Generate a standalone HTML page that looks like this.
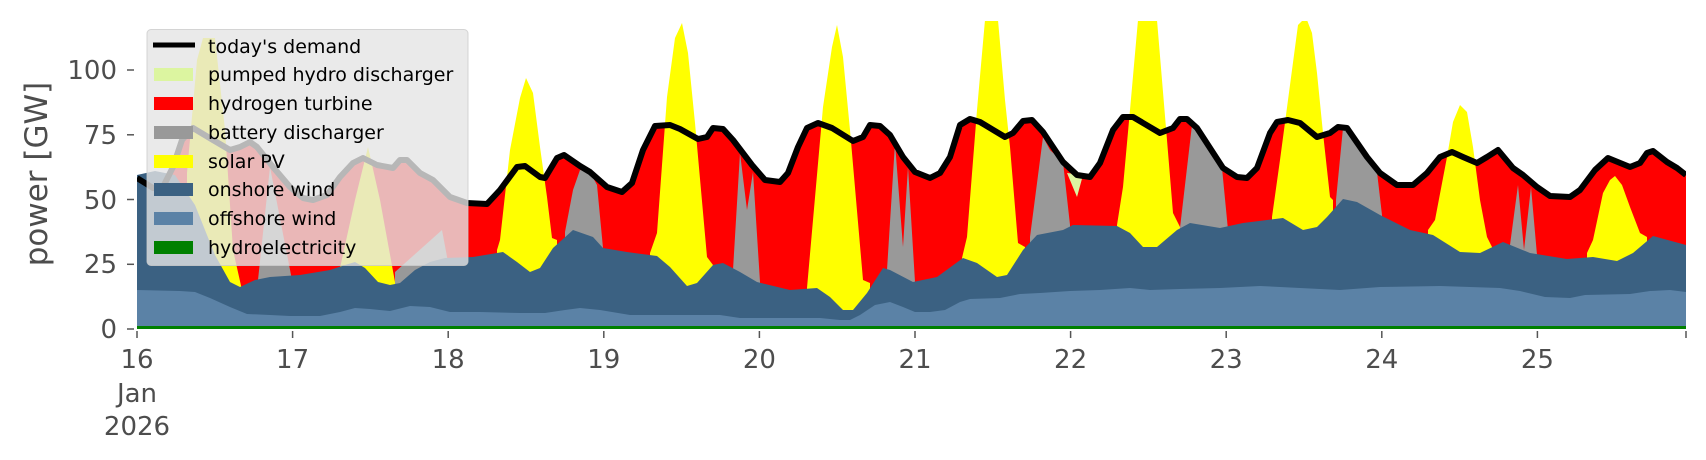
<!DOCTYPE html>
<html><head><meta charset="utf-8"><style>
html,body{margin:0;padding:0;background:#fff;}
svg{display:block;font-family:"DejaVu Sans","Liberation Sans",sans-serif;}
</style></head><body>
<svg width="1706" height="460" viewBox="0 0 1706 460" xmlns="http://www.w3.org/2000/svg">
<defs><clipPath id="c"><rect x="137" y="21" width="1549" height="310"/></clipPath></defs>
<g clip-path="url(#c)">
<polygon fill="#ff0000" points="137,178 153,188 163,187 173,167 182,140 193,128 213,140 230,150 240,147 250,142 257,147 273,167 290,187 303,198 313,200 327,195 340,177 353,163 363,158 377,165 393,168 400,160 407,160 420,173 433,180 450,197 467,203 487,204 500,190 517,167 525,166 540,177 545,178 557,158 564,155 580,166 590,172 607,187 622,192 632,183 643,150 655,126 670,125 680,129 698,139 707,137 713,128 723,129 733,140 752,165 765,180 780,182 788,173 798,147 807,128 818,123 832,128 853,141 863,137 870,125 880,126 890,135 903,157 915,172 930,178 940,173 950,157 960,125 970,119 980,122 1005,137 1013,133 1023,121 1032,120 1043,132 1063,162 1077,175 1090,177 1100,163 1113,130 1123,117 1133,117 1160,133 1173,128 1180,119 1187,119 1197,128 1223,168 1237,177 1247,178 1257,168 1270,133 1277,122 1288,120 1300,123 1317,137 1330,133 1338,127 1347,128 1367,157 1380,173 1397,185 1413,185 1427,173 1440,157 1452,152 1463,157 1477,163 1487,157 1498,150 1513,168 1523,175 1537,187 1550,196 1570,197 1580,190 1595,170 1608,158 1630,167 1640,163 1647,153 1653,151 1667,162 1677,168 1686,175 1686,329 137,329"/>
<g fill="#999999">
<polygon points="258,329 258,280 270,167 292,280 292,329"/>
<polygon points="395,329 395,272 442,230 448,262 448,329"/>
<polygon points="565,329 565,232 573,190 580,170 590,172 597,185 603,248 603,329"/>
<polygon points="733,329 733,270 740,153 747,210 753,172 760,282 760,329"/>
<polygon points="887,329 887,270 895,143 903,247 908,167 915,282 915,329"/>
<polygon points="1030,329 1030,237 1043,137 1050,150 1063,162 1070,225 1070,329"/>
<polygon points="1180,329 1180,228 1192,125 1200,130 1215,155 1222,168 1228,230 1228,329"/>
<polygon points="1336,329 1336,200 1343,128 1350,130 1370,158 1377,172 1382,215 1382,329"/>
<polygon points="1510,329 1510,245 1518,185 1524,250 1531,187 1537,255 1537,329"/>
</g>
<polygon fill="#dcf5a0" points="1067,173 1077,197 1083,175"/>
<g fill="#ffff00">
<polygon points="187,329 187,173 197,60 203,38 215,38 225,130 233,250 242,290 242,329"/>
<polygon points="340,329 340,268 355,200 368,147 380,200 395,282 395,329"/>
<polygon points="497,329 497,250 500,240 510,150 520,98 526,78 533,93 540,147 547,197 552,238 557,240 557,329"/>
<polygon points="650,329 650,253 657,233 667,97 675,38 682,23 688,53 695,123 707,257 713,265 713,329"/>
<polygon points="807,329 807,288 823,107 832,47 837,25 843,57 850,130 863,280 870,283 870,329"/>
<polygon points="962,329 962,258 967,237 977,110 985,20 998,20 1005,100 1010,147 1018,243 1025,247 1025,329"/>
<polygon points="1117,329 1117,225 1123,187 1130,110 1138,20 1157,20 1167,140 1173,213 1180,227 1180,329"/>
<polygon points="1272,329 1272,217 1280,160 1288,100 1298,25 1303,20 1307,20 1312,33 1317,73 1323,133 1330,197 1333,200 1333,329"/>
<polygon points="1428,329 1428,230 1435,220 1447,157 1453,122 1460,105 1467,112 1473,147 1480,200 1487,237 1492,247 1492,329"/>
<polygon points="1587,329 1587,253 1593,240 1603,193 1610,180 1615,176 1622,185 1630,207 1640,233 1647,237 1647,329"/>
</g>
<polygon fill="#3b6182" points="137,175 155,171 175,175 195,205 215,255 230,282 240,287 255,280 270,277 300,275 330,270 345,265 355,262 365,268 378,282 390,285 400,283 415,270 430,262 445,258 473,257 503,252 517,262 530,272 540,268 553,248 573,230 593,237 603,248 627,252 657,256 670,267 687,286 697,283 713,265 723,263 740,272 757,282 790,290 817,288 830,297 843,310 853,310 867,293 883,268 890,270 913,282 937,277 963,258 977,263 997,277 1007,275 1023,250 1037,235 1063,230 1073,225 1117,226 1130,233 1143,247 1157,247 1177,230 1190,223 1220,228 1243,223 1283,218 1303,230 1317,227 1327,217 1343,199 1357,202 1380,215 1410,230 1433,235 1460,252 1480,253 1503,242 1530,253 1567,259 1593,257 1617,261 1633,253 1653,236 1686,245 1686,329 137,329"/>
<polygon fill="#5b82a6" points="137,290 180,291 195,292 210,298 230,307 247,314 270,315 290,316 320,316 340,312 355,308 370,309 390,311 410,306 430,307 450,312 480,312 520,313 545,313 565,310 580,308 600,310 630,315 660,315 720,315 740,318 820,318 840,320 850,320 860,315 875,305 890,302 903,307 915,312 930,312 945,310 960,302 970,299 1000,298 1020,294 1040,293 1070,291 1100,290 1130,288 1150,290 1180,289 1220,288 1260,286 1300,288 1340,290 1380,287 1440,286 1500,288 1520,291 1545,297 1570,298 1585,295 1630,294 1650,291 1670,290 1686,292 1686,329 137,329"/>
<rect x="137" y="326" width="1549" height="3" fill="#008000"/>
<polyline fill="none" stroke="#000" stroke-width="6" stroke-linejoin="round" points="137,178 153,188 163,187 173,167 182,140 193,128 213,140 230,150 240,147 250,142 257,147 273,167 290,187 303,198 313,200 327,195 340,177 353,163 363,158 377,165 393,168 400,160 407,160 420,173 433,180 450,197 467,203 487,204 500,190 517,167 525,166 540,177 545,178 557,158 564,155 580,166 590,172 607,187 622,192 632,183 643,150 655,126 670,125 680,129 698,139 707,137 713,128 723,129 733,140 752,165 765,180 780,182 788,173 798,147 807,128 818,123 832,128 853,141 863,137 870,125 880,126 890,135 903,157 915,172 930,178 940,173 950,157 960,125 970,119 980,122 1005,137 1013,133 1023,121 1032,120 1043,132 1063,162 1077,175 1090,177 1100,163 1113,130 1123,117 1133,117 1160,133 1173,128 1180,119 1187,119 1197,128 1223,168 1237,177 1247,178 1257,168 1270,133 1277,122 1288,120 1300,123 1317,137 1330,133 1338,127 1347,128 1367,157 1380,173 1397,185 1413,185 1427,173 1440,157 1452,152 1463,157 1477,163 1487,157 1498,150 1513,168 1523,175 1537,187 1550,196 1570,197 1580,190 1595,170 1608,158 1630,167 1640,163 1647,153 1653,151 1667,162 1677,168 1686,175"/>
</g>
<g stroke="#555" stroke-width="1.5">
<line x1="127" y1="329" x2="134" y2="329"/><line x1="127" y1="264.3" x2="134" y2="264.3"/><line x1="127" y1="199.5" x2="134" y2="199.5"/><line x1="127" y1="134.8" x2="134" y2="134.8"/><line x1="127" y1="70" x2="134" y2="70"/>
<line x1="137" y1="331" x2="137" y2="338"/><line x1="292.6" y1="331" x2="292.6" y2="338"/><line x1="448.2" y1="331" x2="448.2" y2="338"/><line x1="603.8" y1="331" x2="603.8" y2="338"/><line x1="759.4" y1="331" x2="759.4" y2="338"/><line x1="915" y1="331" x2="915" y2="338"/><line x1="1070.6" y1="331" x2="1070.6" y2="338"/><line x1="1226.2" y1="331" x2="1226.2" y2="338"/><line x1="1381.8" y1="331" x2="1381.8" y2="338"/><line x1="1537.4" y1="331" x2="1537.4" y2="338"/><line x1="1686" y1="331" x2="1686" y2="338"/>
</g>
<g fill="#4d4d4d" font-size="26" text-anchor="end">
<text x="117" y="338">0</text><text x="117" y="273">25</text><text x="117" y="209">50</text><text x="117" y="144">75</text><text x="117" y="79">100</text>
</g>
<g fill="#4d4d4d" font-size="26" text-anchor="middle">
<text x="137" y="368">16</text><text x="137" y="402">Jan</text><text x="137" y="435">2026</text>
<text x="292.6" y="368">17</text><text x="448.2" y="368">18</text><text x="603.8" y="368">19</text><text x="759.4" y="368">20</text><text x="915" y="368">21</text><text x="1070.6" y="368">22</text><text x="1226.2" y="368">23</text><text x="1381.8" y="368">24</text><text x="1537.4" y="368">25</text>
</g>
<text transform="translate(47,174) rotate(-90)" fill="#4d4d4d" font-size="31" text-anchor="middle">power [GW]</text>
<rect x="147" y="29.5" width="321" height="236" rx="4" fill="rgba(229,229,229,0.8)" stroke="rgba(204,204,204,0.8)"/>
<line x1="153" y1="45" x2="195" y2="45" stroke="#000" stroke-width="5"/>
<rect x="154" y="68" width="39" height="13" fill="#dcf5a0"/>
<rect x="154" y="97" width="39" height="13" fill="#ff0000"/>
<rect x="154" y="126" width="39" height="13" fill="#999999"/>
<rect x="154" y="155" width="39" height="13" fill="#ffff00"/>
<rect x="154" y="183" width="39" height="13" fill="#3b6182"/>
<rect x="154" y="212" width="39" height="13" fill="#5b82a6"/>
<rect x="154" y="241" width="39" height="13" fill="#008000"/>
<g fill="#000" font-size="19">
<text x="208" y="53">today's demand</text>
<text x="208" y="81">pumped hydro discharger</text>
<text x="208" y="110">hydrogen turbine</text>
<text x="208" y="139">battery discharger</text>
<text x="208" y="168">solar PV</text>
<text x="208" y="196">onshore wind</text>
<text x="208" y="225">offshore wind</text>
<text x="208" y="254">hydroelectricity</text>
</g>
</svg>
</body></html>
